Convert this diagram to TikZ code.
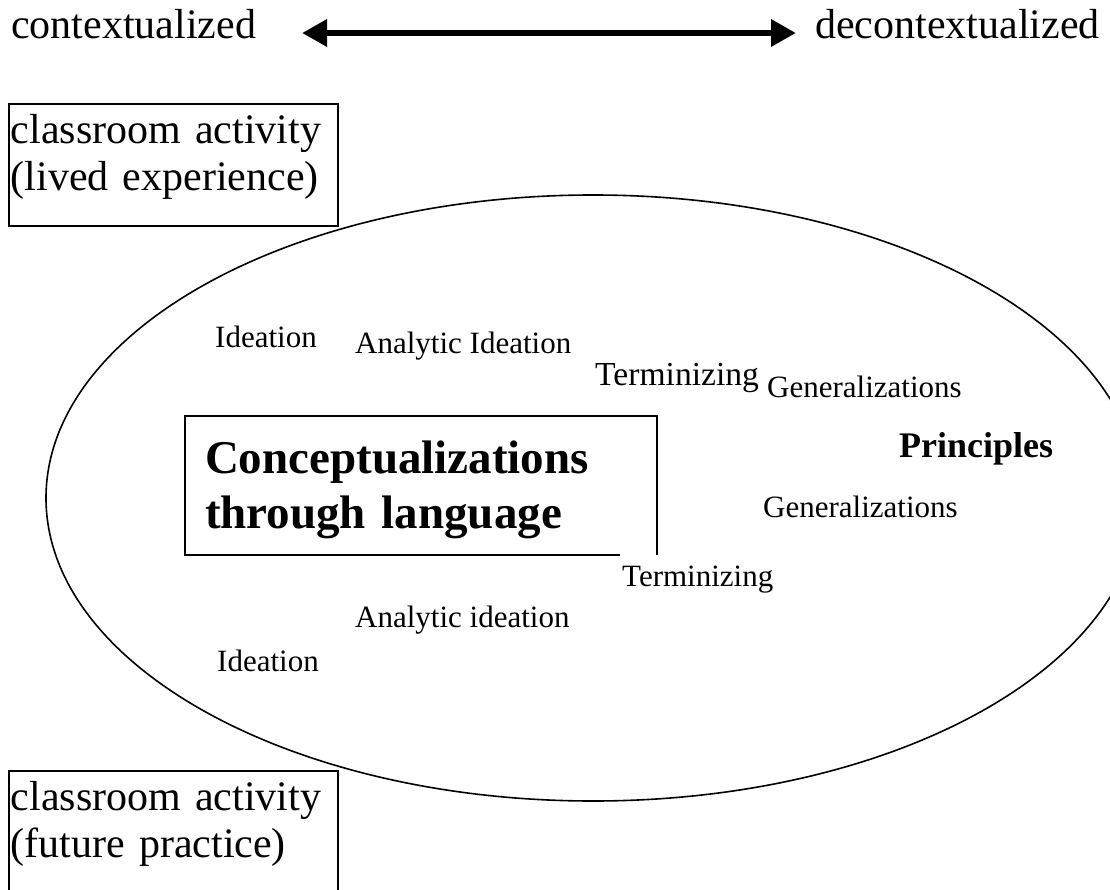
\documentclass[tikz,border=0pt]{standalone}
\usepackage{fontspec}
\setmainfont{Liberation Serif}
\usetikzlibrary{arrows.meta,shapes.geometric}
\begin{document}
\begin{tikzpicture}[x=1pt,y=-1pt,
  rule/.style={line width=1.6pt},
  endlabel/.style={font=\fontsize{42}{47}\selectfont, inner sep=0pt, anchor=base west},
  actbox/.style={rule, draw, anchor=north west, align=left, text width=325pt,
    inner xsep=2pt, inner ysep=0pt, text height=40pt, text depth=82pt,
    font=\fontsize{42}{47}\selectfont},
  stage/.style={font=\fontsize{31}{36}\selectfont, inner sep=0pt, anchor=base west},
  ]
\path[use as bounding box, clip] (0,0) rectangle (1110,890);
\fill[white] (0,0) rectangle (1110,890);

% continuum along the top
\node[endlabel] (ctx) at (11,39) {contextualized};
\node[endlabel] (dectx) at (815,39) {decontextualized};
\coordinate (arrowL) at (302,33);
\coordinate (arrowR) at (796,33);
\draw[line width=6.5pt, {Triangle[length=25pt,width=26pt]}-{Triangle[length=25pt,width=26pt]}]
  (arrowL) -- (arrowR);

% classroom activity boxes
\node[actbox] (lived) at (8,103) {classroom activity\\(lived experience)};
\node[actbox] (future) at (8,770) {classroom activity\\(future practice)};

% the field of conceptualization
\node[rule, draw, ellipse, minimum width=1094pt, minimum height=606pt, inner sep=0pt]
  (field) at (593,498) {};

% central box
\node[rule, draw, anchor=north west, align=left, text width=432pt,
  inner xsep=20pt, inner ysep=0pt, outer sep=0pt, text height=57pt, text depth=82pt,
  font=\bfseries\fontsize{47}{55}\selectfont]
  (concept) at (185,416) {Conceptualizations\\through language};

% stages, upper row
\node[stage] (idea1) at (215,347) {Ideation};
\node[stage] (anal1) at (355,353) {Analytic Ideation};
\node[stage, font=\fontsize{33.6}{38}\selectfont] (term1) at (595,385) {Terminizing};
\node[stage] (gen1) at (767,397) {Generalizations};

% principles
\node[stage, font=\bfseries\fontsize{36}{40}\selectfont] (princ) at (899,457) {Principles};

% stages, lower row
\node[stage] (gen2) at (763,517) {Generalizations};
\node[stage, fill=white, inner xsep=2pt, inner ysep=12pt] (term2) at (620,586.5) {Terminizing};
\node[stage] (anal2) at (355,627) {Analytic ideation};
\node[stage] (idea2) at (217,671) {Ideation};

% right side of the central box stays in front of the white label
\draw[rule] (concept.north east) -- (concept.south east);
\end{tikzpicture}
\end{document}
